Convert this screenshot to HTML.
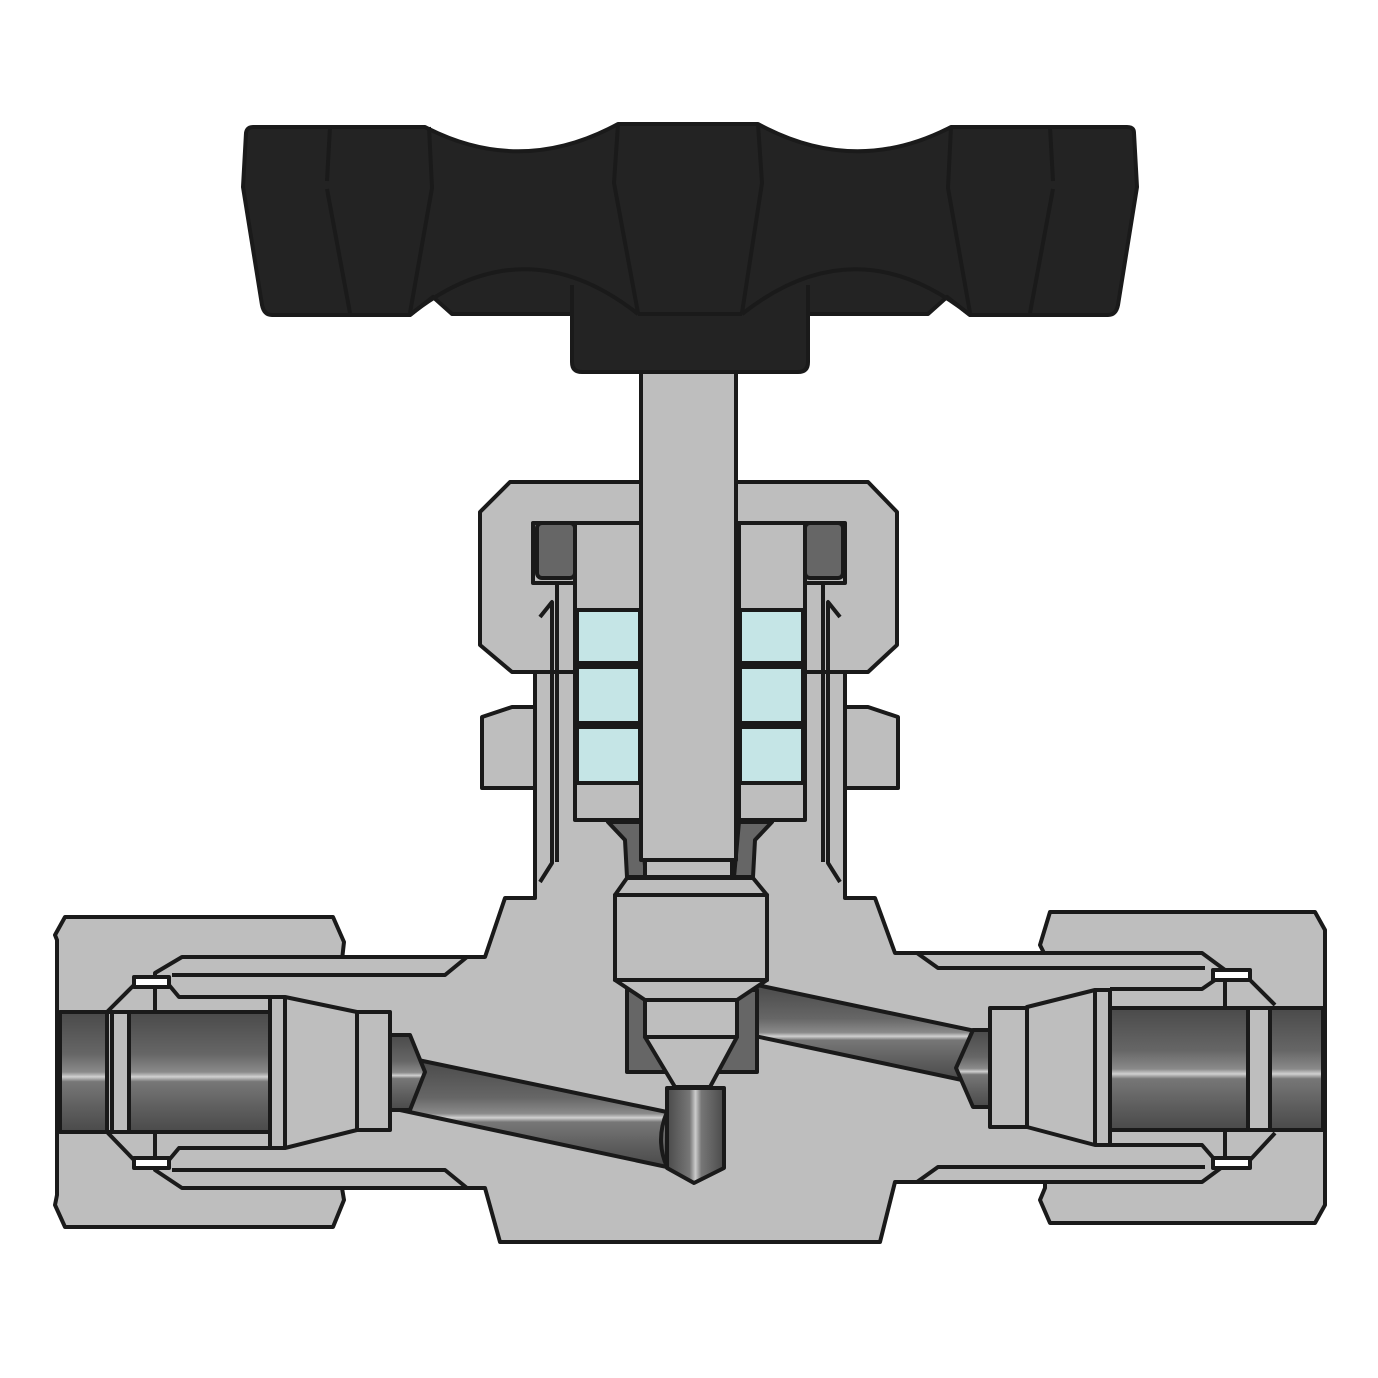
<!DOCTYPE html>
<html><head><meta charset="utf-8"><style>html,body{margin:0;padding:0;background:#fff}svg{display:block}</style></head>
<body>
<svg width="1378" height="1378" viewBox="0 0 1378 1378" xmlns="http://www.w3.org/2000/svg">
<defs>
<linearGradient id="tg" x1="0" y1="0" x2="0" y2="1">
<stop offset="0" stop-color="#4a4a4a"/><stop offset="0.35" stop-color="#666"/><stop offset="0.5" stop-color="#8a8a8a"/><stop offset="0.54" stop-color="#d0d0d0"/><stop offset="0.58" stop-color="#777"/><stop offset="0.8" stop-color="#5e5e5e"/><stop offset="1" stop-color="#4a4a4a"/>
</linearGradient>
<linearGradient id="vg" x1="0" y1="0" x2="1" y2="0">
<stop offset="0" stop-color="#4a4a4a"/><stop offset="0.4" stop-color="#777"/><stop offset="0.5" stop-color="#ccc"/><stop offset="0.6" stop-color="#777"/><stop offset="1" stop-color="#4a4a4a"/>
</linearGradient>
</defs>
<g stroke="#1a1a1a" stroke-width="4" stroke-linejoin="round" fill="#bebebe">
<!-- nuts -->
<polygon points="65,917 333,917 344,942 342,960 342,1188 344,1200 333,1227 65,1227 55,1205 57,1195 57,940 55,935"/>
<polygon points="1050,912 1315,912 1325,930 1325,1205 1315,1223 1050,1223 1040,1200 1045,1188 1045,955 1040,945"/>
<!-- lower bonnet nut pieces -->
<polygon points="482,717 512,707 540,707 540,788 482,788"/>
<polygon points="898,717 868,707 840,707 840,788 898,788"/>
<!-- body -->
<path d="M155,973 L182,957 L485,957 L505,898 L535,898 L535,617 L845,617 L845,898 L875,898 L895,953 L1202,953 L1225,970 L1225,1165 L1202,1182 L895,1182 L880,1242 L500,1242 L485,1188 L182,1188 L155,1170 Z"/>
<!-- upper bonnet nut -->
<polygon points="510,482 868,482 897,512 897,645 868,672 512,672 480,645 480,512"/>
<!-- cavity -->
<rect x="533" y="523" width="312" height="60" fill="#bebebe"/>
<polyline fill="none" points="557,585 557,862"/>
<polyline fill="none" points="540,617 552,602 552,863 540,882"/>
<polyline fill="none" points="823,585 823,862"/>
<polyline fill="none" points="840,617 828,602 828,863 840,882"/>
<rect x="537" y="523" width="38" height="55" rx="5" fill="#666"/>
<rect x="805" y="523" width="38" height="55" rx="5" fill="#666"/>
<rect x="575" y="523" width="66" height="297"/>
<rect x="739" y="523" width="66" height="297"/>
<rect x="577" y="610" width="63" height="53" fill="#c5e5e6"/>
<rect x="577" y="667" width="63" height="56" fill="#c5e5e6"/>
<rect x="577" y="727" width="63" height="56" fill="#c5e5e6"/>
<rect x="740" y="610" width="63" height="53" fill="#c5e5e6"/>
<rect x="740" y="667" width="63" height="56" fill="#c5e5e6"/>
<rect x="740" y="727" width="63" height="56" fill="#c5e5e6"/>
<polygon points="608,822 641,822 646,877 627,877 625,840" fill="#666"/>
<polygon points="772,822 739,822 734,877 753,877 755,840" fill="#666"/>
<!-- stem -->
<rect x="645" y="855" width="87" height="22"/>
<rect x="641" y="370" width="95" height="490"/>
<!-- inner arm lines -->
<polyline fill="none" points="172,975 445,975 467,957"/>
<polyline fill="none" points="172,1170 445,1170 467,1188"/>
<polyline fill="none" points="917,953 938,968 1205,968"/>
<polyline fill="none" points="917,1182 938,1167 1205,1167"/>
<polyline fill="none" points="134,985 169,985 179,997 270,997"/>
<polyline fill="none" points="134,1160 169,1160 179,1148 270,1148"/>
<polyline fill="none" points="134,985 107,1012"/>
<polyline fill="none" points="134,1160 107,1132"/>
<polyline fill="none" points="1250,980 1215,980 1202,989 1110,989"/>
<polyline fill="none" points="1250,1160 1215,1160 1202,1145 1110,1145"/>
<polyline fill="none" points="1250,980 1275,1005"/>
<polyline fill="none" points="1250,1160 1275,1133"/>
<rect x="134" y="977" width="35" height="10" fill="#fff"/>
<rect x="134" y="1158" width="35" height="10" fill="#fff"/>
<rect x="1213" y="970" width="37" height="10" fill="#fff"/>
<rect x="1213" y="1158" width="37" height="10" fill="#fff"/>
<!-- tubes -->
<rect x="60" y="1012" width="210" height="120" fill="url(#tg)"/>
<rect x="107" y="1012" width="22" height="120"/>
<line x1="112" y1="1012" x2="112" y2="1132"/>
<rect x="1110" y="1008" width="213" height="122" fill="url(#tg)"/>
<rect x="1248" y="1008" width="22" height="122"/>
<!-- ferrules -->
<polygon points="270,997 285,997 357,1012 357,1130 285,1148 270,1148"/>
<line x1="285" y1="997" x2="285" y2="1148"/>
<rect x="357" y="1012" width="33" height="118"/>
<polygon points="1110,990 1095,990 1027,1007 1027,1127 1095,1145 1110,1145"/>
<line x1="1095" y1="990" x2="1095" y2="1145"/>
<rect x="990" y="1008" width="37" height="119"/>
<!-- passages -->
<polygon points="418,1060 667,1112 667,1167 400,1110" fill="url(#tg)"/>
<polygon points="390,1035 410,1035 425,1072 410,1110 390,1110" fill="url(#tg)"/>
<polygon points="667,1088 724,1088 724,1168 694,1183 667,1168" fill="url(#vg)"/>
<path d="M667,1112 Q655,1140 667,1167" fill="none"/>
<polygon points="757,985 980,1032 962,1080 750,1035" fill="url(#tg)"/>
<polygon points="990,1030 973,1030 956,1068 973,1107 990,1107" fill="url(#tg)"/>
<!-- seat block & needle -->
<rect x="627" y="990" width="130" height="82" fill="#666"/>
<polygon points="627,878 753,878 767,895 615,895"/>
<rect x="615" y="895" width="152" height="85"/>
<polygon points="615,980 767,980 737,1000 645,1000"/>
<rect x="645" y="1000" width="92" height="37"/>
<polygon points="645,1037 737,1037 710,1087 675,1087"/>
<!-- handle -->
<path fill="#232323" d="M253,127 L425,127 Q521,177 618,124 L758,124 Q855,177 951,127 L1127,127 Q1134,127 1134,133 L1137,187 L1118,305 Q1116,315 1108,315 L970,315 L947,297 L928,314 L808,314 L808,362 Q808,372 798,372 L582,372 Q572,372 572,362 L572,314 L452,314 L433,297 L410,315 L272,315 Q264,315 262,305 L243,187 L246,133 Q247,127 253,127 Z"/>
<g fill="none">
<path d="M410,315 Q524,224 638,314"/>
<path d="M742,314 Q856,224 970,315"/>
<line x1="638" y1="314" x2="742" y2="314"/>
<line x1="572" y1="285" x2="572" y2="314"/>
<line x1="808" y1="285" x2="808" y2="314"/>
<polyline points="429,127 432,188 410,313"/>
<polyline points="618,124 614,183 638,313"/>
<polyline points="758,124 762,183 742,313"/>
<polyline points="951,127 948,188 970,313"/>
<polyline points="330,127 327,181"/>
<polyline points="327,189 350,313"/>
<polyline points="1050,127 1053,181"/>
<polyline points="1053,189 1030,313"/>
</g>
</g>
</svg>
</body></html>
